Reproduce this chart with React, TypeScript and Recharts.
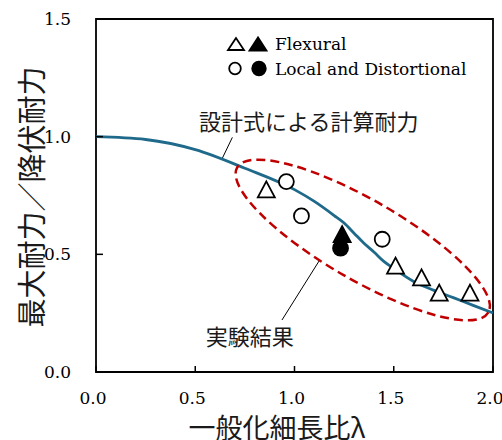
import {
  ComposedChart,
  Line,
  Scatter,
  XAxis,
  YAxis,
  ReferenceArea,
  ReferenceLine,
  ReferenceDot,
  Customized,
} from "recharts";

// design curve (設計式による計算耐力)
const curveX = [0, 0.25, 0.5, 0.75, 1.0, 1.1, 1.2, 1.25, 1.3, 1.35, 1.4, 1.45, 1.5, 1.6, 1.7, 1.8, 1.9, 2.0];
const curveY = [1.0, 0.988, 0.945, 0.866, 0.775, 0.725, 0.665, 0.633, 0.59, 0.547, 0.51, 0.47, 0.44, 0.385, 0.348, 0.316, 0.283, 0.251];

// test results
const flexOpenX = [0.858, 1.509, 1.64, 1.729, 1.884];
const flexOpenY = [0.776, 0.452, 0.402, 0.337, 0.337];
const flexFillX = [1.24];
const flexFillY = [0.586];
const localOpenX = [0.959, 1.035, 1.442];
const localOpenY = [0.809, 0.663, 0.564];
const localFillX = [1.232];
const localFillY = [0.526];

const xTicks = [0, 0.5, 1.0, 1.5, 2.0];
const yTicks = [0, 0.5, 1.0, 1.5];

const zip = (xs: number[], ys: number[]) => xs.map((x, i) => ({ x, y: ys[i] }));

const curve = zip(curveX, curveY);
const flexOpen = zip(flexOpenX, flexOpenY);
const flexFill = zip(flexFillX, flexFillY);
const localOpen = zip(localOpenX, localOpenY);
const localFill = zip(localFillX, localFillY);

const serif = { fontFamily: "'DejaVu Serif'", fontSize: 17, fill: "#000" };
const jp = { fontFamily: "Noto Sans CJK JP, sans-serif", fill: "#1a1a1a" };
const BLUE = "#1f6a8a";
const RED = "#c00000";

const triangle = (cx: number, cy: number, filled: boolean, w = 17, h = 16) => (
  <polygon
    points={`${cx},${cy - h / 2} ${cx - w / 2},${cy + h / 2} ${cx + w / 2},${cy + h / 2}`}
    fill={filled ? "#000" : "#fff"}
    stroke="#000"
    strokeWidth={1.8}
  />
);

const circle = (cx: number, cy: number, filled: boolean, r = 7.5) => (
  <circle cx={cx} cy={cy} r={r} fill={filled ? "#000" : "#fff"} stroke="#000" strokeWidth={1.8} />
);

const XTick = ({ x, y, payload }: any) => (
  <g>
    <line x1={x} y1={y} x2={x} y2={y - 6} stroke="#000" strokeWidth={1.5} />
    <text x={x - 3} y={y + 32} textAnchor="middle" style={serif}>
      {payload.value.toFixed(1)}
    </text>
  </g>
);

const YTick = ({ x, y, payload }: any) => (
  <g>
    <line x1={x} y1={y} x2={x + 7} y2={y} stroke="#000" strokeWidth={1.5} />
    <text x={x - 25} y={y + 6} textAnchor="end" style={serif}>
      {payload.value.toFixed(1)}
    </text>
  </g>
);

const Decorations = () => (
  <g>
    {/* legend */}
    {triangle(236, 44, false, 16, 12)}
    {triangle(258, 44, true, 17, 13)}
    <text x={275} y={50} style={serif}>Flexural</text>
    {circle(235, 68.5, false, 5.8)}
    {circle(259, 68.5, true, 6.8)}
    <text x={275} y={75} style={serif}>Local and Distortional</text>
    {/* axis titles */}
    <text
      x={30}
      y={197}
      transform="rotate(-90 30 197)"
      textAnchor="middle"
      dominantBaseline="central"
      style={{ ...jp, fontSize: 29 }}
    >
      最大耐力／降伏耐力
    </text>
    <text x={277} y={438} textAnchor="middle" style={{ ...jp, fontSize: 27 }}>
      一般化細長比λ
    </text>
  </g>
);

const Ellipse = ({ cx, cy }: any) => (
  <ellipse
    cx={cx}
    cy={cy}
    rx={145}
    ry={40}
    transform={`rotate(30 ${cx} ${cy})`}
    fill="none"
    stroke={RED}
    strokeWidth={2.5}
    strokeDasharray="9 5"
  />
);

const Note = (text: string) => ({ cx, cy }: any) => (
  <text x={cx} y={cy} textAnchor="middle" style={{ ...jp, fontSize: 22 }}>
    {text}
  </text>
);

export default function App() {
  return (
    <div style={{ position: "absolute", left: 0, top: 0 }}>
      <ComposedChart width={502} height={440} margin={{ top: 19, right: 9, bottom: 38, left: 36 }}>
        <XAxis
          dataKey="x"
          type="number"
          domain={[0, 2]}
          ticks={xTicks}
          axisLine={false}
          tickLine={false}
          tickSize={0}
          tickMargin={0}
          height={30}
          tick={<XTick />}
          interval={0}
        />
        <YAxis
          dataKey="y"
          type="number"
          domain={[0, 1.5]}
          ticks={yTicks}
          axisLine={false}
          tickLine={false}
          tickSize={0}
          tickMargin={0}
          width={60}
          tick={<YTick />}
          interval={0}
        />
        <ReferenceArea x1={0} x2={2} y1={0} y2={1.5} fill="none" stroke="#000" strokeWidth={1.8} fillOpacity={0} />
        <ReferenceDot x={1.344} y={0.561} r={0} shape={<Ellipse />} />
        <ReferenceLine segment={[{ x: 0.687, y: 0.997 }, { x: 0.634, y: 0.904 }]} stroke="#000" strokeWidth={1} />
        <ReferenceLine segment={[{ x: 1.127, y: 0.476 }, { x: 0.937, y: 0.221 }]} stroke="#000" strokeWidth={1} />
        <ReferenceDot x={1.072} y={1.028} r={0} shape={Note("設計式による計算耐力")} />
        <ReferenceDot x={0.774} y={0.115} r={0} shape={Note("実験結果")} />
        <Line
          data={curve}
          dataKey="y"
          type="monotone"
          stroke={BLUE}
          strokeWidth={2.8}
          dot={false}
          activeDot={false}
          isAnimationActive={false}
        />
        <Scatter data={flexOpen} shape={(p: any) => triangle(p.cx, p.cy, false)} isAnimationActive={false} />
        <Scatter data={localOpen} shape={(p: any) => circle(p.cx, p.cy, false)} isAnimationActive={false} />
        <Scatter data={flexFill} shape={(p: any) => triangle(p.cx, p.cy, true)} isAnimationActive={false} />
        <Scatter data={localFill} shape={(p: any) => circle(p.cx, p.cy, true)} isAnimationActive={false} />
        <Customized component={Decorations} />
      </ComposedChart>
    </div>
  );
}
